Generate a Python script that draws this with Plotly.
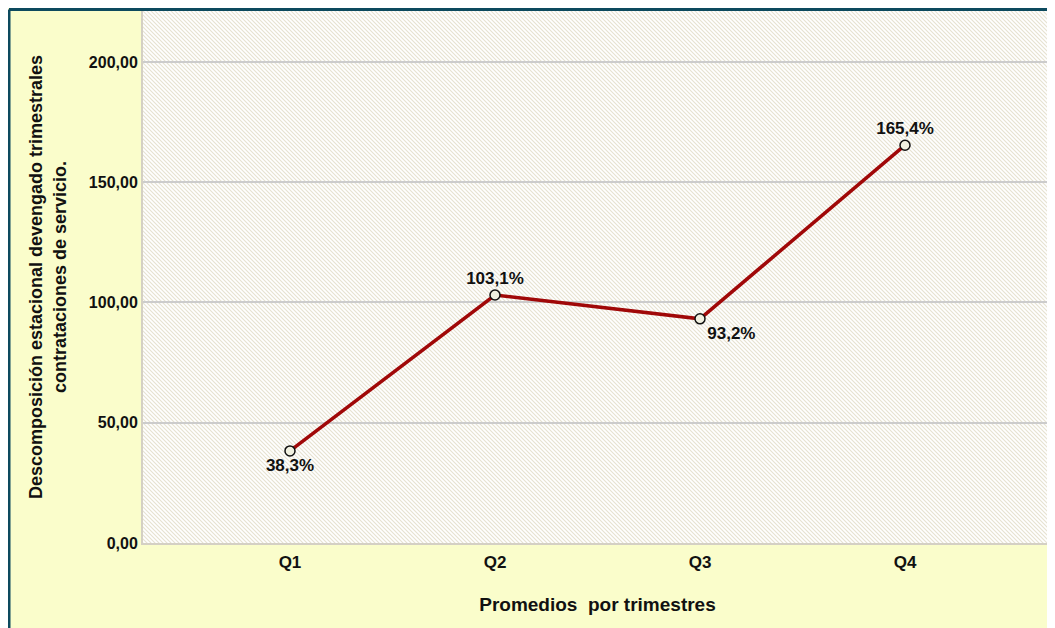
import base64
import plotly.graph_objects as go

categories = ["Q1", "Q2", "Q3", "Q4"]
values = [38.3, 103.1, 93.2, 165.4]
labels = ["38,3%", "103,1%", "93,2%", "165,4%"]
label_positions = ["bottom center", "top center", "bottom right", "top center"]
y_ticks = [0, 50, 100, 150, 200]

W, H = 1047, 620
L, R, T, B = 135, 3, 3, 85
pw, ph = W - L - R, H - T - B

svg = f'''<svg xmlns="http://www.w3.org/2000/svg" width="{pw}" height="{ph}" viewBox="0 0 {pw} {ph}">
<defs><pattern id="p" patternUnits="userSpaceOnUse" width="4" height="4">
<rect width="4" height="4" fill="#ffffff"/>
<path d="M-1,-1 L5,5 M3,-1 L5,1 M-1,3 L1,5" stroke="#e6e2d0" stroke-width="1.1"/>
</pattern></defs>
<rect width="{pw}" height="{ph}" fill="url(#p)"/></svg>'''
src = "data:image/svg+xml;base64," + base64.b64encode(svg.encode()).decode()

FONT = "Arial, Liberation Sans, sans-serif"

fig = go.Figure()
fig.add_trace(go.Scatter(
    x=categories, y=values, mode="lines+markers+text",
    line=dict(color="#a00808", width=3.5),
    marker=dict(size=10, color="#f0f0e0", line=dict(color="#111111", width=1.5)),
    text=labels, textposition=label_positions,
    textfont=dict(family=FONT, size=17, color="#111111", weight="bold"),
    cliponaxis=False, showlegend=False,
))

bx = (1 - L) / pw
by = (ph - 1.5 + T) / ph

fig.update_layout(
    width=W, height=H,
    margin=dict(l=L, r=R, t=T, b=B),
    paper_bgcolor="#fafdcb",
    plot_bgcolor="#ffffff",
    separators=",.",
    font=dict(family=FONT, color="#111111"),
    xaxis=dict(
        range=[-0.717, 3.717], showgrid=False, ticks="outside", ticklen=3, tickcolor="rgba(0,0,0,0)",
        showline=True, linecolor="#d4d0c4", linewidth=2,
        tickfont=dict(size=17, weight="bold"),
        title=dict(text="Promedios  por trimestres", font=dict(size=19, weight="bold"), standoff=26),
        zeroline=False,
    ),
    yaxis=dict(
        range=[0, 221.2], tickvals=y_ticks, tickformat=".2f",
        showgrid=True, gridcolor="#cccccc", gridwidth=1.5,
        showline=True, linecolor="#d4d0c4", linewidth=2, zeroline=False,
        tickfont=dict(size=16, weight="bold"), ticks="", ticklen=0,
        title=dict(text="Descomposición estacional devengado trimestrales<br>contrataciones de servicio.",
                   font=dict(size=18, weight="bold"), standoff=18),
    ),
    images=[dict(source=src, xref="paper", yref="paper", x=0, y=1, sizex=1, sizey=1,
                 sizing="stretch", xanchor="left", yanchor="top", layer="below")],
    shapes=[
        dict(type="line", xref="paper", yref="paper", x0=bx, x1=1.1, y0=by, y1=by,
             line=dict(color="#0d4a5e", width=3), layer="above"),
        dict(type="line", xref="paper", yref="paper", x0=bx, x1=bx, y0=-0.3, y1=by,
             line=dict(color="#0d4a5e", width=3), layer="above"),
    ],
)

fig.write_html("out.html")
